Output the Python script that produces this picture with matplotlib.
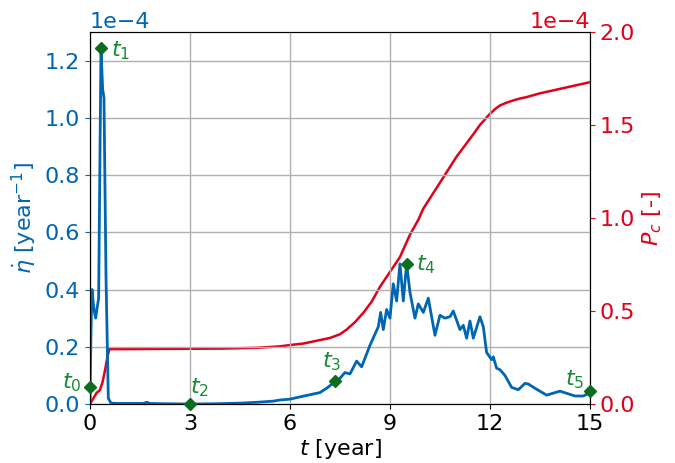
import numpy as np
import matplotlib.pyplot as plt

plt.rcParams['font.size'] = 16
plt.rcParams['mathtext.fontset'] = 'dejavusans'

# strain rate (x1e-4 per year)
t_rate = [0.0, 0.03, 0.06, 0.12, 0.17, 0.22, 0.26, 0.33, 0.38, 0.42, 0.48, 0.55, 0.63, 0.8,
          1.2, 1.6, 1.7, 1.8, 2.2, 3.0, 3.8, 4.5, 5.0, 5.5, 5.7, 6.0, 6.5, 6.9, 7.1, 7.35,
          7.5, 7.65, 7.8, 8.0, 8.15, 8.4, 8.65, 8.72, 8.8, 8.9, 9.0, 9.1, 9.2, 9.3, 9.4,
          9.5, 9.6, 9.75, 9.85, 10.0, 10.15, 10.35, 10.5, 10.65, 10.8, 10.9, 11.1, 11.2,
          11.3, 11.4, 11.5, 11.7, 11.8, 11.9, 12.05, 12.1, 12.2, 12.3, 12.45, 12.65, 12.85,
          13.05, 13.15, 13.35, 13.7, 14.1, 14.55, 14.8, 15.0]
rate = [0.0, 0.25, 0.40, 0.33, 0.30, 0.34, 0.37, 1.245, 1.10, 1.07, 0.45, 0.02, 0.003, 0.002,
        0.002, 0.002, 0.006, 0.002, 0.001, 0.0, 0.001, 0.003, 0.006, 0.010, 0.014, 0.017, 0.030,
        0.040, 0.055, 0.078, 0.09, 0.11, 0.105, 0.15, 0.13, 0.205, 0.27, 0.32, 0.26, 0.33,
        0.30, 0.42, 0.36, 0.49, 0.36, 0.49, 0.39, 0.30, 0.35, 0.32, 0.37, 0.24, 0.31, 0.30,
        0.305, 0.325, 0.26, 0.275, 0.23, 0.29, 0.23, 0.305, 0.27, 0.18, 0.155, 0.165, 0.125,
        0.12, 0.10, 0.058, 0.050, 0.072, 0.070, 0.055, 0.031, 0.045, 0.028, 0.028, 0.04]

# cumulative damage probability (x1e-4)
t_pc = [0.0, 0.1, 0.2, 0.3, 0.38, 0.45, 0.52, 0.58, 1.0, 2.0, 3.0, 4.0, 5.0, 5.7, 6.0, 6.4,
        6.8, 7.2, 7.5, 7.7, 7.95, 8.2, 8.45, 8.7, 9.0, 9.3, 9.6, 9.85, 10.0, 10.25, 10.5,
        10.75, 11.0, 11.25, 11.5, 11.7, 11.85, 12.0, 12.15, 12.3, 12.5, 12.7, 12.9, 13.1,
        13.3, 13.5, 14.0, 14.5, 15.0]
pc = [0.0, 0.03, 0.06, 0.075, 0.12, 0.18, 0.25, 0.295, 0.295, 0.296, 0.297, 0.298, 0.302,
      0.31, 0.317, 0.325, 0.34, 0.355, 0.375, 0.40, 0.44, 0.49, 0.55, 0.63, 0.71, 0.79,
      0.91, 0.99, 1.05, 1.12, 1.19, 1.26, 1.33, 1.39, 1.45, 1.50, 1.53, 1.56, 1.585, 1.605,
      1.62, 1.632, 1.642, 1.65, 1.66, 1.67, 1.69, 1.71, 1.73]

# marked instants
mark_t = [0.0, 0.33, 3.0, 7.35, 9.5, 15.0]
mark_v = [0.06, 1.245, 0.0, 0.08, 0.49, 0.045]
mark_lbl = ['$t_0$', '$t_1$', '$t_2$', '$t_3$', '$t_4$', '$t_5$']
lbl_off = [(-20, 3), (7, -2), (0, 12), (-9, 14), (6.5, -1), (-18, 8)]

blue = '#0066b3'
red = '#e2001a'
green = '#0b6e1f'
scale = 1e-4

fig, ax = plt.subplots(figsize=(6.75, 4.63), dpi=100)
fig.subplots_adjust(left=0.1333, right=0.874, bottom=0.1274, top=0.931)

ax.plot(t_rate, np.array(rate) * scale, color=blue, lw=2)
ax.set_xlim(0, 15)
ax.set_ylim(0, 1.3e-4)
ax.set_xticks([0, 3, 6, 9, 12, 15])
ax.set_yticks(np.arange(0, 1.21, 0.2) * scale)
ax.ticklabel_format(axis='y', style='sci', scilimits=(-4, -4))
ax.grid(True, color='#b0b0b0', lw=1)
ax.set_xlabel('$t$ [year]', labelpad=2)
ax.set_ylabel(r'$\dot{\eta}$ [year$^{-1}$]', color=blue)
ax.tick_params(axis='y', labelcolor=blue, color=blue)
ax.yaxis.get_offset_text().set_color(blue)
ax.yaxis.get_offset_text().set_fontsize(16)

ax2 = ax.twinx()
ax2.plot(t_pc, np.array(pc) * scale, color=red, lw=1.8)
ax2.set_ylim(0, 2e-4)
ax2.set_yticks(np.arange(0, 2.01, 0.5) * scale)
ax2.ticklabel_format(axis='y', style='sci', scilimits=(-4, -4))
ax2.set_ylabel('$P_c$ [-]', color=red)
ax2.tick_params(axis='y', labelcolor=red, color=red)
ax2.yaxis.get_offset_text().set_color(red)
ax2.yaxis.get_offset_text().set_fontsize(16)

# markers on top of both lines
ax.set_zorder(ax2.get_zorder() + 1)
ax.patch.set_visible(False)
ax.plot(mark_t, np.array(mark_v) * scale, 'D', color=green, ms=6, clip_on=False, zorder=5)
for x, v, s, off in zip(mark_t, mark_v, mark_lbl, lbl_off):
    ax.annotate(s, (x, v * scale), xytext=off, textcoords='offset points',
                color='#1a8a35', fontsize=16, ha='left', va='center')

plt.savefig('out.png')
